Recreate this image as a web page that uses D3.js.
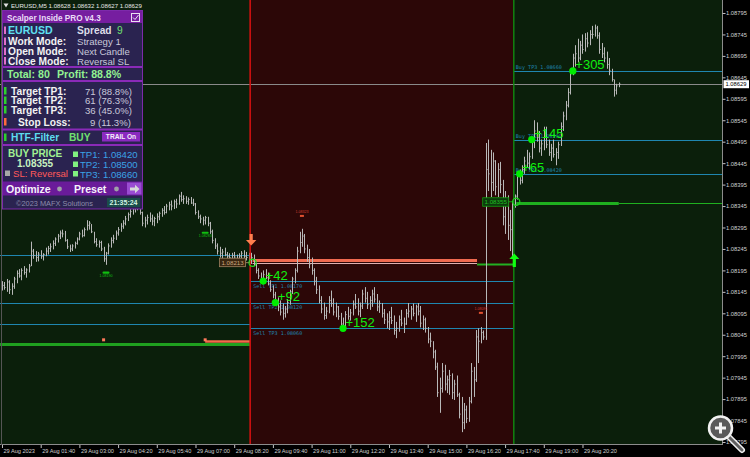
<!DOCTYPE html>
<html>
  <head>
    <script src="https://d3js.org/d3.v7.min.js"></script>
    <style>
      body{ margin:0; background:#000; }
      svg{ display:block; font-family:"Liberation Sans", Arial, sans-serif; }
    </style>
  </head>
  <body>
    <svg id="chart" width="750" height="457"></svg>
    <script>
      // EURUSD M5, 29 Aug 2023, first bar 00:20 - prices in points above 1.08000
      const highs = [170,168,175,172,165,180,195,198,200,205,
        200,210,262,245,240,238,242,235,248,252,
        258,265,272,280,288,290,287,268,255,256,
        262,272,285,290,295,312,310,303,285,270,
        265,264,250,238,258,272,278,288,296,305,
        312,322,330,338,345,350,352,348,332,320,
        325,330,325,320,328,332,340,345,350,355,
        358,360,362,372,378,370,368,365,366,362,
        352,335,325,320,322,320,308,290,270,258,
        250,245,248,238,235,236,238,232,235,240,
        242,238,236,236,232,212,200,190,195,198,
        190,172,160,145,132,125,118,112,128,150,
        180,200,250,285,292,280,255,245,225,200,
        180,160,135,120,110,135,148,130,120,112,
        96,85,100,110,105,125,140,130,120,150,
        156,145,135,150,156,140,125,119,105,95,
        100,110,90,75,90,103,85,105,119,112,
        118,115,119,112,90,85,63,50,30,10,
        -20,-55,-21,-25,-50,-37,-45,-60,-50,-90,
        -100,-114,-120,-100,-21,-30,56,60,63,55,
        492,500,476,470,452,445,448,406,380,370,
        336,356,372,425,430,440,460,476,470,505,
        545,540,520,500,530,530,500,490,500,480,
        495,540,565,590,620,665,700,720,735,730,
        745,748,750,755,765,768,765,750,725,715,
        705,690,665,640,630,633];
      const lows = [148,150,145,140,138,152,165,178,172,185,
        178,190,205,222,215,216,222,218,228,232,
        238,244,252,260,268,272,262,245,238,240,
        246,255,265,272,274,288,290,282,258,250,
        248,240,215,208,232,248,258,266,276,285,
        292,300,310,318,325,330,335,325,298,295,
        302,308,300,298,305,312,320,325,328,335,
        335,338,340,348,355,350,350,348,350,345,
        325,315,305,300,302,298,280,258,245,232,
        225,222,228,220,218,216,222,215,215,222,
        224,218,212,210,205,188,175,165,165,175,
        160,145,130,118,100,90,80,85,95,115,
        140,165,190,235,250,235,215,200,185,160,
        140,118,95,80,82,95,110,90,86,80,
        62,56,62,80,78,90,105,90,86,105,
        120,105,103,110,120,100,96,85,70,60,
        56,70,45,37,52,65,49,68,85,80,
        88,75,90,62,56,50,25,16,-10,-37,
        -100,-137,-90,-85,-91,-95,-105,-107,-100,-150,
        -182,-175,-161,-158,-115,-100,-65,-21,25,33,
        33,380,366,380,370,366,375,300,280,266,
        240,226,341,360,395,398,420,435,430,455,
        480,495,470,462,475,480,462,450,458,440,
        455,485,520,545,575,605,650,670,680,685,
        700,705,715,720,735,740,735,700,690,680,
        665,650,635,600,605,622];
      const closes = [160,155,168,150,158,175,188,182,195,190,
        196,205,240,230,225,233,228,232,240,246,
        250,258,268,275,282,280,265,250,245,252,
        258,268,280,276,290,300,305,285,262,255,
        260,245,222,235,252,265,270,282,290,298,
        305,315,325,332,338,345,340,330,305,312,
        318,315,310,316,320,328,335,330,345,348,
        345,355,350,368,360,362,356,360,352,350,
        330,320,315,312,318,305,285,265,252,240,
        235,238,232,228,225,230,226,222,228,235,
        228,225,214,225,210,195,182,172,185,178,
        165,150,138,125,110,98,95,105,120,145,
        175,195,240,260,275,245,225,210,195,170,
        150,125,105,90,100,125,118,98,110,88,
        70,65,92,88,96,115,110,100,112,140,
        130,115,125,140,128,110,118,95,80,75,
        85,78,55,60,80,72,70,95,100,105,
        95,110,100,72,80,60,35,30,5,-30,
        -90,-80,-40,-70,-60,-50,-90,-70,-95,-140,
        -160,-130,-150,-110,-40,-60,40,30,50,40,
        430,420,400,450,390,430,395,320,350,300,
        290,355,368,415,405,430,450,445,460,495,
        520,505,480,490,515,488,470,480,465,470,
        488,530,555,580,610,655,690,700,690,720,
        710,735,725,745,745,760,742,710,700,690,
        675,660,640,615,625,629];

      const priceTicks = [1.07795,1.07845,1.07895,1.07945,1.07995,1.08045,1.08095,1.08145,1.08195,1.08245,
        1.08295,1.08345,1.08395,1.08445,1.08495,1.08545,1.08595,1.08645,1.08695,1.08745,1.08795];
      const timeTicks = ["00:20","01:40","03:00","04:20","05:40","07:00","08:20","09:40","11:00","12:20","13:40","15:00","16:20","17:40","19:00","20:20"];

      const oldTP = [1.08230, 1.08120, 1.08070];
      const sellTP = [1.08170, 1.08120, 1.08060];
      const buyTP = [1.08420, 1.08500, 1.08660];
      const sellTPNames = ["Sell TP1 1.08170","Sell TP2 1.08120","Sell TP3 1.08060"];
      const buyTPNames = ["Buy TP1 1.08420","Buy TP2 1.08500","Buy TP3 1.08660"];

      const hitTimes = ["09:20","09:45","12:05","18:10","18:35","20:00"];
      const hitPrices = [1.08170,1.08120,1.08060,1.08420,1.08500,1.08660];
      const hitPips = ["+42","+92","+152","+65","+145","+305"];

      const sellSignal = {line:"08:53", entry:"08:58", price:1.08213, exit:"16:42"};
      const buySignal = {line:"17:58", entry:"18:03", price:1.08355, until:"21:35"};
      const bidPrice = 1.08629;

      const greenTags = [["03:55",1.08190,"1.08190"],["07:20",1.08283,"1.08283"]];
      const redTags = [["10:40",1.08322,"1.08323"],["16:50",1.08096,"1.08091"]];

      const panelModes = [["Work Mode:","Strategy 1"],["Open Mode:","Next Candle"],["Close Mode:","Reversal SL"]];
      const panelTargets = [["Target TP1:","71 (88.8%)"],["Target TP2:","61 (76.3%)"],["Target TP3:","36 (45.0%)"],["Stop Loss:","9 (11.3%)"]];
      const panelTPs = ["TP1: 1.08420","TP2: 1.08500","TP3: 1.08660"];

      const svg = d3.select("#chart");
      const W = 722, H = 445;
      const T = s => { const p = s.split(":"); return new Date(2023, 7, 29, +p[0], +p[1]); };

      const x = d3.scaleTime()
        .domain([new Date(2023,7,29,0,15,52), new Date(2023,7,30,1,8,24)])
        .range([0, W]);
      const y = d3.scaleLinear().domain([1.07788, 1.088253]).range([H, 0]);
      const py = v => y(1.08 + v / 100000);

      const GREEN_BG = "#0b1f0b", RED_BG = "#2c0707", TEAL = "#1f86b0";

      // backgrounds
      svg.append("rect").attr("width", 750).attr("height", 457).attr("fill", "#000");
      svg.append("rect").attr("width", W).attr("height", H).attr("fill", GREEN_BG);
      svg.append("rect").attr("x", x(T(sellSignal.line))).attr("width", x(T(buySignal.line)) - x(T(sellSignal.line)))
        .attr("height", H).attr("fill", RED_BG);

      const g = svg.append("g");

      // bid line
      g.append("line").attr("x1", 0).attr("x2", W).attr("y1", Math.round(y(bidPrice)) + 0.5).attr("y2", Math.round(y(bidPrice)) + 0.5)
        .attr("stroke", "#8a8a8a");

      // TP lines
      function hline(p, x1, x2, color, w) {
        const yy = Math.round(y(p)) + 0.5;
        g.append("line").attr("x1", x1).attr("x2", x2).attr("y1", yy).attr("y2", yy)
          .attr("stroke", color).attr("stroke-width", w || 1);
      }
      oldTP.forEach(p => hline(p, 0, x(T(sellSignal.line)), TEAL));
      sellTP.forEach(p => hline(p, x(T(sellSignal.line)), x(T(buySignal.line)), TEAL));
      buyTP.forEach(p => hline(p, x(T(buySignal.line)), W, TEAL));

      // trade lines
      hline(1.08023, 0, x(T(sellSignal.line)), "#1fa01f", 3);
      hline(1.08030, x(T("07:20")), x(T(sellSignal.line)), "#f06a4a", 2.5);
      [["03:50"],["07:20"]].forEach(d => g.append("rect").attr("x", x(T(d[0])) - 1.5).attr("y", y(1.08032) - 2)
        .attr("width", 3).attr("height", 3).attr("fill", "#ff7a5a"));
      hline(sellSignal.price, x(T(sellSignal.entry)), x(T(sellSignal.exit)), "#e0b0b0", 1);
      hline(1.08220, x(T(sellSignal.entry)), x(T(sellSignal.exit)), "#f06a50", 3);
      hline(1.08210, x(T(sellSignal.exit)), x(T(buySignal.line)), "#22b022", 2);
      hline(buySignal.price - 0.00002, x(T(buySignal.entry)), x(T(buySignal.until)), "#1fb01f", 3);
      hline(buySignal.price - 0.00002, x(T(buySignal.until)), W, "#1fb01f", 1);

      // TP text labels
      const mono = "'DejaVu Sans Mono', 'Liberation Mono', monospace";
      sellTP.forEach((p, i) => g.append("text").attr("x", x(T(sellSignal.line)) + 3).attr("y", y(p) + 6.5)
        .attr("font-family", mono).attr("font-size", 5.1).attr("fill", TEAL).text(sellTPNames[i]));
      buyTP.forEach((p, i) => g.append("text").attr("x", x(T(buySignal.line)) + 2).attr("y", y(p) - 2)
        .attr("font-family", mono).attr("font-size", 5.1).attr("fill", TEAL).text(buyTPNames[i]));

      // price bars
      const bars = highs.map((h, i) => ({t: new Date(2023,7,29,0,20 + i * 5), h: h, l: lows[i], c: closes[i]}));
      g.selectAll("line.bar").data(bars).join("line").attr("class", "bar")
        .attr("x1", d => Math.round(x(d.t)) + 0.5).attr("x2", d => Math.round(x(d.t)) + 0.5)
        .attr("y1", d => py(d.h)).attr("y2", d => py(d.l))
        .attr("stroke", "#b8b8b8").attr("stroke-width", 1);
      g.selectAll("line.cl").data(bars).join("line").attr("class", "cl")
        .attr("x1", d => Math.round(x(d.t)) + 0.5).attr("x2", d => Math.round(x(d.t)) + 1.6)
        .attr("y1", d => py(d.c)).attr("y2", d => py(d.c))
        .attr("stroke", "#b8b8b8").attr("stroke-width", 1);

      // signal vertical lines
      g.append("line").attr("x1", x(T(sellSignal.line))).attr("x2", x(T(sellSignal.line))).attr("y1", 0).attr("y2", H)
        .attr("stroke", "#d01010").attr("stroke-width", 1.6);
      g.append("line").attr("x1", x(T(buySignal.line))).attr("x2", x(T(buySignal.line))).attr("y1", 0).attr("y2", H)
        .attr("stroke", "#118a11").attr("stroke-width", 1.4);

      // small tags
      greenTags.forEach(d => {
        const xx = x(T(d[0])), yy = y(d[1]);
        g.append("rect").attr("x", xx - 3.5).attr("y", yy - 1).attr("width", 7).attr("height", 2.2).attr("rx", 1).attr("fill", "#10c010");
        g.append("text").attr("x", xx).attr("y", yy + 4.5).attr("text-anchor", "middle").attr("font-size", 3.6).attr("fill", "#10c010").text(d[2]);
      });
      redTags.forEach(d => {
        const xx = x(T(d[0])), yy = y(d[1]);
        g.append("rect").attr("x", xx - 2).attr("y", yy - 1).attr("width", 4).attr("height", 2).attr("fill", "#e05030");
        g.append("text").attr("x", xx).attr("y", yy - 2.5).attr("text-anchor", "middle").attr("font-size", 3.6).attr("fill", "#d04030").text(d[2]);
      });

      // entry labels
      const sx = x(T(sellSignal.entry)), sy = y(sellSignal.price);
      g.append("rect").attr("x", sx - 33).attr("y", sy - 4.5).attr("width", 26).attr("height", 8.5)
        .attr("fill", "#3a2610").attr("stroke", "#a08060").attr("stroke-width", 0.8);
      g.append("text").attr("x", sx - 20).attr("y", sy + 2.2).attr("text-anchor", "middle").attr("font-size", 6.2)
        .attr("fill", "#c8a880").text(d3.format(".5f")(sellSignal.price));
      g.append("line").attr("x1", sx - 7).attr("x2", sx - 3.5).attr("y1", sy).attr("y2", sy).attr("stroke", "#a08060");
      g.append("circle").attr("cx", sx).attr("cy", sy).attr("r", 3.6).attr("fill", "none").attr("stroke", "#20e020").attr("stroke-width", 1.2);

      const bx = x(T(buySignal.entry)), by = y(buySignal.price);
      g.append("rect").attr("x", bx - 33.5).attr("y", by - 4).attr("width", 26).attr("height", 8.5)
        .attr("fill", "#0d3a0d").attr("stroke", "#10a010").attr("stroke-width", 0.8);
      g.append("text").attr("x", bx - 20.5).attr("y", by + 2.6).attr("text-anchor", "middle").attr("font-size", 6.2)
        .attr("fill", "#20c020").text(d3.format(".5f")(buySignal.price));
      g.append("line").attr("x1", bx - 7.5).attr("x2", bx - 3.5).attr("y1", by).attr("y2", by).attr("stroke", "#10a010");
      g.append("circle").attr("cx", bx).attr("cy", by).attr("r", 3.6).attr("fill", "none").attr("stroke", "#20d020").attr("stroke-width", 1.2);

      // signal arrows
      const ax = x(T(sellSignal.line)) + 1;
      g.append("path").attr("d", `M${ax-1.6},234 h3.2 v6 h3.6 l-5.2,5.5 l-5.2,-5.5 h3.6 z`).attr("fill", "#ff7f4f");
      const ux = x(T(buySignal.line)) + 0.5;
      g.append("path").attr("d", `M${ux},253.5 l5,5.5 h-3.4 v8 h-3.2 v-8 h-3.4 z`).attr("fill", "#10ff10");

      // TP hit markers
      hitTimes.forEach((t, i) => {
        const xx = x(T(t)), yy = y(hitPrices[i]);
        g.append("circle").attr("cx", xx).attr("cy", yy).attr("r", 3.6).attr("fill", "#00ee00");
        g.append("text").attr("x", xx + 2.5).attr("y", yy - 1.5).attr("font-size", 13).attr("fill", "#10f010").text(hitPips[i]);
      });

      // frame
      svg.append("line").attr("x1", W + 0.5).attr("x2", W + 0.5).attr("y1", 0).attr("y2", H).attr("stroke", "#8c8c8c");
      svg.append("line").attr("x1", 0).attr("x2", W + 1).attr("y1", H - 0.5).attr("y2", H - 0.5).attr("stroke", "#8c8c8c");
      svg.append("line").attr("x1", 1.5).attr("x2", 1.5).attr("y1", 0).attr("y2", H).attr("stroke", "#555");

      // axes
      const yAxis = svg.append("g").attr("transform", `translate(${W},0)`)
        .call(d3.axisRight(y).tickValues(priceTicks).tickSize(3).tickFormat(d3.format(".5f")));
      yAxis.select(".domain").remove();
      yAxis.selectAll("line").attr("stroke", "#c0c0c0").attr("transform", "translate(0.5,0)");
      yAxis.selectAll("text").attr("x", 4).attr("font-size", 5.8).attr("font-family", "Liberation Sans, Arial").attr("fill", "#d0d0d0");

      const xAxis = svg.append("g").attr("transform", `translate(0,${H})`)
        .call(d3.axisBottom(x).tickValues(timeTicks.map(T)).tickSize(3)
          .tickFormat((d, i) => i === 0 ? "29 Aug 2023" : "29 Aug " + d3.timeFormat("%H:%M")(d)));
      xAxis.select(".domain").remove();
      xAxis.selectAll("line").attr("stroke", "#c0c0c0");
      xAxis.selectAll("text").attr("text-anchor", "start").attr("x", 1).attr("y", 4).attr("font-size", 5.6)
        .attr("font-family", "Liberation Sans, Arial").attr("fill", "#d0d0d0");

      // bid label
      svg.append("rect").attr("x", W + 1.5).attr("y", y(bidPrice) - 4).attr("width", 25.5).attr("height", 8).attr("fill", "#fff");
      svg.append("text").attr("x", W + 3.5).attr("y", y(bidPrice) + 2.2).attr("font-size", 5.8).attr("fill", "#000")
        .text(d3.format(".5f")(bidPrice));

      // chart title
      svg.append("path").attr("d", "M3.5,3.5 h5 l-2.5,4 z").attr("fill", "#e0e0e0");
      svg.append("text").attr("x", 11).attr("y", 8.3).attr("font-size", 6.1).attr("fill", "#e8e8e8")
        .text("EURUSD,M5  1.08628 1.08632 1.08627 1.08629");

      // info panel
      const p = svg.append("g");
      const txt = (xx, yy, s, size, color, bold) => p.append("text").attr("x", xx).attr("y", yy)
        .attr("font-size", size).attr("fill", color).attr("font-weight", bold ? "bold" : "normal").text(s);
      p.append("rect").attr("x", 2.5).attr("y", 10.5).attr("width", 140).attr("height", 198.5)
        .attr("fill", "#2a2350").attr("stroke", "#7d2aab").attr("stroke-width", 1);
      p.append("rect").attr("x", 3).attr("y", 11).attr("width", 139).attr("height", 12).attr("fill", "#761ea0");
      txt(7, 20.6, "Scalper Inside PRO v4.3", 8.2, "#eadcf7", true);
      p.append("rect").attr("x", 131.5).attr("y", 13.5).attr("width", 8).attr("height", 8).attr("fill", "none").attr("stroke", "#e8e0f0");
      p.append("path").attr("d", "M133,17.5 l2,2 l3.5,-4.5").attr("fill", "none").attr("stroke", "#e8e0f0").attr("stroke-width", 1);

      [34, 45, 55, 64.5].forEach(b => p.append("rect").attr("x", 4).attr("y", b - 7.5).attr("width", 2).attr("height", 7.5).attr("fill", "#e070c8"));
      txt(8, 34, "EURUSD", 10.6, "#5ee0f2", true);
      txt(77, 34, "Spread", 10.2, "#dcdce8", true);
      txt(117, 34, "9", 10.2, "#70e070", false);
      panelModes.forEach((d, i) => {
        const b = [45, 55, 64.5][i];
        txt(8, b, d[0], 10.2, "#f2f2f2", true);
        txt(77, b, d[1], 9.6, "#c8c8da", false);
      });
      [66, 80, 128.5, 144].forEach(yy => p.append("rect").attr("x", 3).attr("y", yy).attr("width", 139).attr("height", 2).attr("fill", "#8a2ab8"));
      txt(7, 77.5, "Total: 80", 10.6, "#92f292", true);
      txt(57, 77.5, "Profit: 88.8%", 10.6, "#92f292", true);
      panelTargets.forEach((d, i) => {
        const b = [94.5, 104, 113.5, 125.5][i];
        p.append("rect").attr("x", 4).attr("y", b - 7.5).attr("width", 2.5).attr("height", 7.5).attr("fill", i === 3 ? "#ff6a3d" : "#2ed02e");
        txt(i === 3 ? 18 : 11, b, d[0], 10.2, "#f2f2f2", true);
        txt(i === 3 ? 90 : 85, b, d[1], 9.6, "#c8c8da", false);
      });
      p.append("rect").attr("x", 4).attr("y", 133.5).attr("width", 2.5).attr("height", 7.5).attr("fill", "#2ed02e");
      txt(11, 141, "HTF-Filter", 10.2, "#5edcf0", true);
      txt(69, 141, "BUY", 10.2, "#70e070", true);
      p.append("rect").attr("x", 102).attr("y", 132).attr("width", 38).attr("height", 9.5).attr("fill", "#8a2ac0");
      p.append("text").attr("x", 121).attr("y", 139.3).attr("text-anchor", "middle").attr("font-size", 6.6)
        .attr("font-weight", "bold").attr("fill", "#f4eefa").text("TRAIL On");
      txt(8, 157, "BUY PRICE", 10, "#a2f292", true);
      txt(17, 166.5, "1.08355", 10, "#c8f2c0", true);
      p.append("rect").attr("x", 5).attr("y", 170.5).attr("width", 5).attr("height", 5.5).attr("fill", "#a8a8a8");
      txt(13, 177, "SL: Reversal", 9.6, "#ff5a5a", false);
      panelTPs.forEach((d, i) => {
        const b = [158, 168, 177.5][i];
        p.append("rect").attr("x", 73).attr("y", b - 6.5).attr("width", 5).attr("height", 5.5).attr("fill", "#80f080");
        txt(80, b, d, 9.6, "#3aa2e6", false);
      });
      p.append("rect").attr("x", 3).attr("y", 181.5).attr("width", 139).attr("height", 14).attr("fill", "#6a1b9a");
      txt(6, 193, "Optimize", 10.6, "#f6f2fa", true);
      p.append("circle").attr("cx", 59.5).attr("cy", 189).attr("r", 2.4).attr("fill", "#a0a0a8");
      txt(74, 193, "Preset", 10.6, "#f6f2fa", true);
      p.append("circle").attr("cx", 116.5).attr("cy", 189).attr("r", 2.4).attr("fill", "#a0a0a8");
      p.append("rect").attr("x", 127).attr("y", 182.5).attr("width", 14.5).attr("height", 12).attr("fill", "#9a4cd2");
      p.append("path").attr("d", "M130,187.5 h5 v-2.8 l4.5,4.3 l-4.5,4.3 v-2.8 h-5 z").attr("fill", "#d8d8d8");
      txt(16, 206, "©2023 MAFX Solutions", 7.4, "#8c8cab", false);
      p.append("rect").attr("x", 107).attr("y", 198).attr("width", 33).attr("height", 9).attr("fill", "#1b4d4a");
      p.append("text").attr("x", 123.5).attr("y", 205.4).attr("text-anchor", "middle").attr("font-size", 7)
        .attr("font-weight", "bold").attr("fill", "#d2f2e2").text("21:35:24");

      // zoom icon overlay
      const z = svg.append("g");
      z.append("line").attr("x1", 728).attr("y1", 436).attr("x2", 742).attr("y2", 450).attr("stroke", "#f2f2f2").attr("stroke-width", 6).attr("stroke-linecap", "round");
      z.append("line").attr("x1", 728).attr("y1", 436).attr("x2", 742).attr("y2", 450).attr("stroke", "#606060").attr("stroke-width", 3).attr("stroke-linecap", "round");
      z.append("circle").attr("cx", 720.5).attr("cy", 428).attr("r", 11.5).attr("fill", "#5a5a5a").attr("stroke", "#f2f2f2").attr("stroke-width", 2.5);
      z.append("path").attr("d", "M715,428 h11 M720.5,422.5 v11").attr("stroke", "#f2f2f2").attr("stroke-width", 3);
    </script>
  </body>
</html>
